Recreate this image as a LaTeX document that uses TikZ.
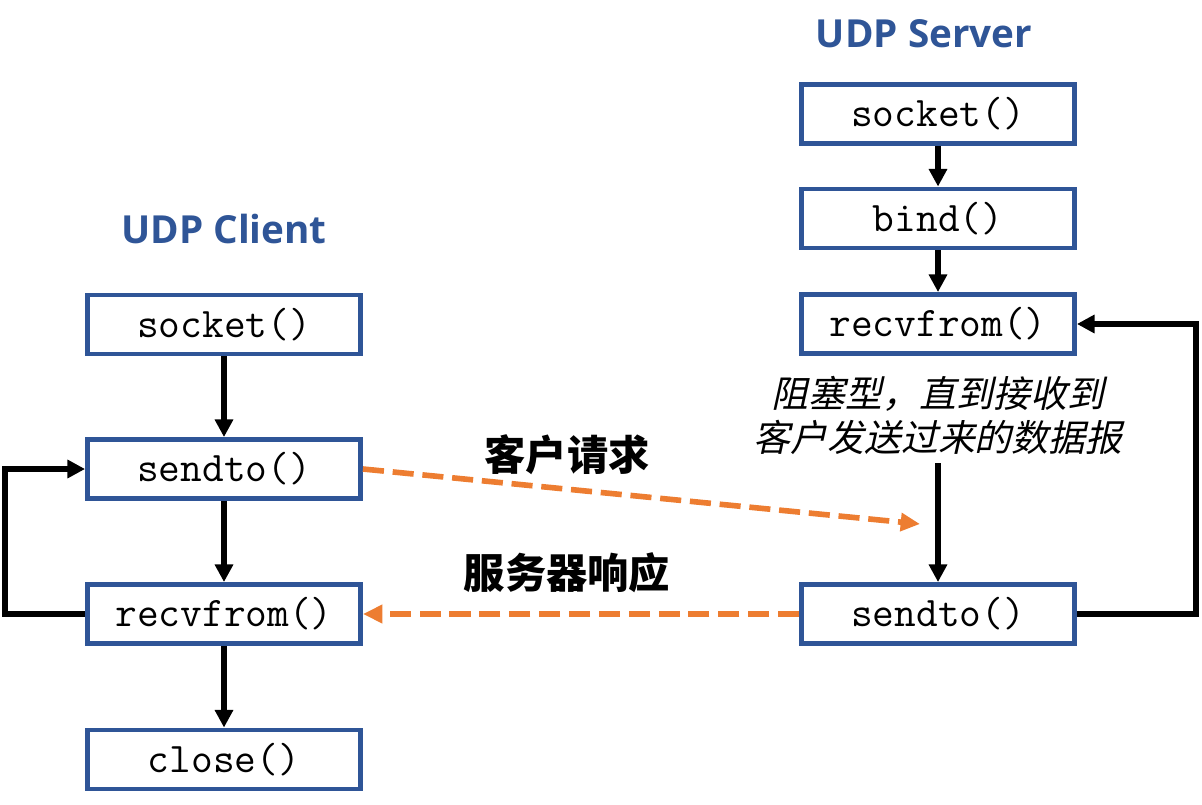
\documentclass[tikz,border=0pt]{standalone}
\usepackage{fontspec}
\newfontfamily\titlefont{Open Sans}
\newfontfamily\cjk{Noto Sans CJK SC}
\newfontfamily\cjkslant{Noto Sans CJK SC}[FakeSlant=0.22]
\usetikzlibrary{arrows.meta}
\usetikzlibrary{positioning}
\usetikzlibrary{calc}
\definecolor{boxblue}{HTML}{2F5597}
\definecolor{msgorange}{HTML}{ED7D31}

\begin{document}
\begin{tikzpicture}[x=0.02cm, y=-0.02cm,
    func/.style={draw=boxblue, line width=2.8pt, minimum width=5.46cm, minimum height=1.18cm,
        inner sep=0pt, font=\ttfamily\fontsize{24}{28}\selectfont},
    side/.style={text=boxblue, font=\titlefont\bfseries\fontsize{22}{26}\selectfont},
    flow/.style={line width=3pt, -{Triangle[length=10pt, width=10pt]}},
    msg/.style={draw=msgorange, line width=3.2pt, dash pattern=on 12pt off 5pt,
        -{Triangle[length=11pt, width=10pt]}},
    msglabel/.style={font=\cjk\bfseries\fontsize{23.5}{28}\selectfont},
]
\useasboundingbox (0,0) rectangle (1202,804);

% client side
\node[side] (ctitle) at (224,229) {UDP Client};
\node[func] (csock) at (224,324.5) {socket()};
\node[func] (csend) at (224,469) {sendto()};
\node[func] (crecv) at (224,614) {recvfrom()};
\node[func] (cclose) at (224,759.5) {close()};

% server side
\node[side] (stitle) at (924,34) {UDP Server};
\node[func] (ssock) at (938,114) {socket()};
\node[func] (sbind) at (938,218.5) {bind()};
\node[func] (srecv) at (938,324) {recvfrom()};
\node[func] (ssend) at (938,614) {sendto()};
\node[align=center, inner sep=5pt, font=\cjkslant\fontsize{21}{25}\selectfont] (note) at (938,415)
    {阻塞型，直到接收到\\客户发送过来的数据报};

\draw[flow] (csock) -- (csend);
\draw[flow] (csend) -- (crecv);
\draw[flow] (crecv) -- (cclose);
\draw[flow] (crecv.west) -- ++(-80,0) |- (csend.west);

\draw[flow] (ssock) -- (sbind);
\draw[flow] (sbind) -- (srecv);
\draw[flow] (note.south) -- (ssend.north);
\draw[flow] (ssend.east) -- ++(119,0) |- (srecv.east);

% messages
\coordinate (reqend) at (920,524);
\draw[msg] (csend.east) -- (reqend);
\draw[msg] (ssend.west) -- (crecv.east);
\node[msglabel] (req) at (567,455) {客户请求};
\node[msglabel] (resp) at (567,573) {服务器响应};
\end{tikzpicture}
\end{document}
